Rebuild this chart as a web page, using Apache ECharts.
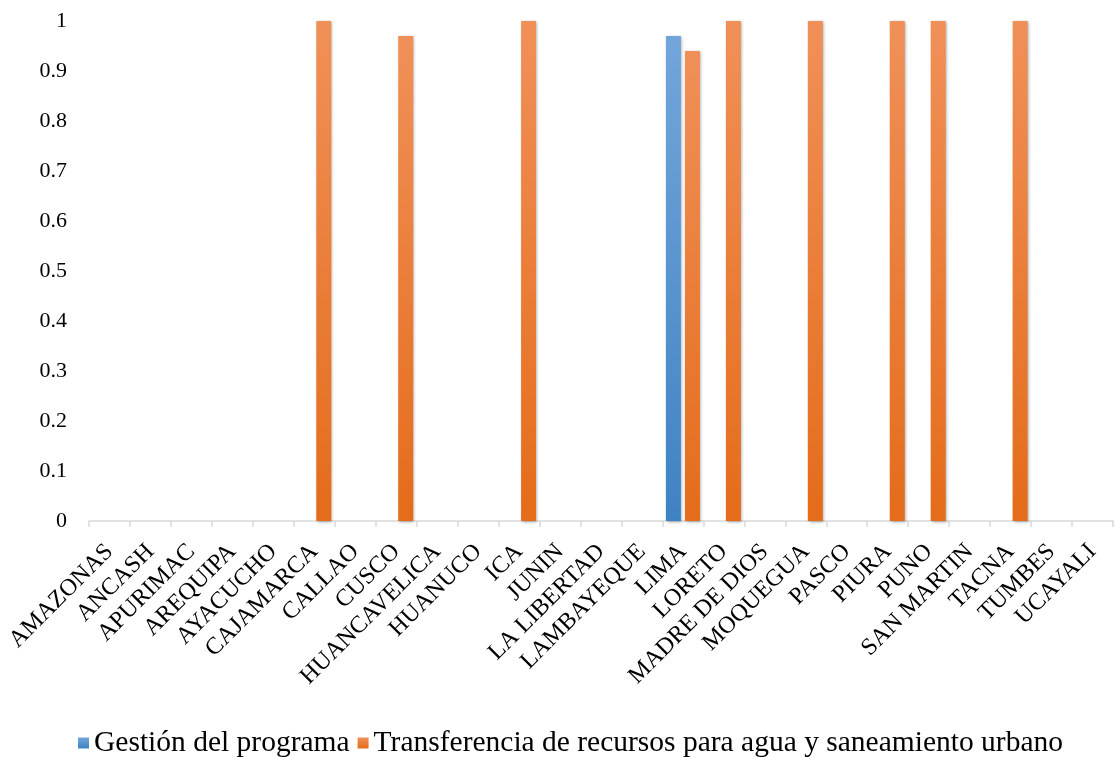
<!DOCTYPE html>
<html>
<head>
<meta charset="utf-8">
<script src="https://cdn.jsdelivr.net/npm/echarts@6/dist/echarts.min.js"></script>
<style>
html,body{margin:0;padding:0;background:#fff;}
#chart{width:1115px;height:758px;}
</style>
</head>
<body>
<div id="chart"></div>
<script>
const categories = ['AMAZONAS','ANCASH','APURIMAC','AREQUIPA','AYACUCHO','CAJAMARCA','CALLAO','CUSCO','HUANCAVELICA','HUANUCO','ICA','JUNIN','LA LIBERTAD','LAMBAYEQUE','LIMA','LORETO','MADRE DE DIOS','MOQUEGUA','PASCO','PIURA','PUNO','SAN MARTIN','TACNA','TUMBES','UCAYALI'];
const gestion =       [0,0,0,0,0,0,0,0,0,0,0,0,0,0,0.97,0,0,0,0,0,0,0,0,0,0];
const transferencia = [0,0,0,0,0,1,0,0.97,0,0,1,0,0,0,0.94,1,0,1,0,1,1,0,1,0,0];
const yTicks = ['0','0.1','0.2','0.3','0.4','0.5','0.6','0.7','0.8','0.9','1'];
const seriesNames = ['Gestión del programa','Transferencia de recursos para agua y saneamiento urbano'];

const FONT = 'Liberation Serif';
const chart = echarts.init(document.getElementById('chart'), null, {renderer:'canvas'});
function grad(top, bottom){
  return new echarts.graphic.LinearGradient(0,0,0,1,[{offset:0,color:top},{offset:1,color:bottom}]);
}
chart.setOption({
  animation:false,
  backgroundColor:'#fff',
  textStyle:{fontFamily:FONT},
  grid:{left:89,right:2,top:21,bottom:237,containLabel:false},
  legend:{
    bottom:0,left:78,padding:0,
    icon:'rect',itemWidth:11,itemHeight:11,itemGap:8,
    textStyle:{fontFamily:FONT,fontSize:29.5,color:'#000'},
    data:seriesNames
  },
  xAxis:{
    type:'category',data:categories,
    axisLine:{lineStyle:{color:'#d9d9d9',width:1.5}},
    axisTick:{show:true,length:6,lineStyle:{color:'#d9d9d9',width:1.5}},
    axisLabel:{rotate:45,interval:0,margin:27,fontFamily:FONT,fontSize:24,color:'#000'}
  },
  yAxis:{
    type:'value',min:0,max:1,interval:0.1,
    axisLine:{show:false},axisTick:{show:false},splitLine:{show:false},
    axisLabel:{margin:22,fontFamily:FONT,fontSize:22,color:'#000',
      formatter:function(v){return yTicks[Math.round(v*10)];}}
  },
  series:[
    {name:seriesNames[0],type:'bar',data:gestion,barWidth:15,barGap:'27%',
     itemStyle:{color:grad('#72a6db','#3f82c3'),shadowBlur:3,shadowColor:'rgba(0,0,0,0.35)',shadowOffsetX:1,shadowOffsetY:1}},
    {name:seriesNames[1],type:'bar',data:transferencia,barWidth:15,
     itemStyle:{color:grad('#f09058','#e46c1a'),shadowBlur:3,shadowColor:'rgba(0,0,0,0.35)',shadowOffsetX:1,shadowOffsetY:1}}
  ],
  color:['#5b9bd5','#ed7d31']
});
</script>
</body>
</html>
